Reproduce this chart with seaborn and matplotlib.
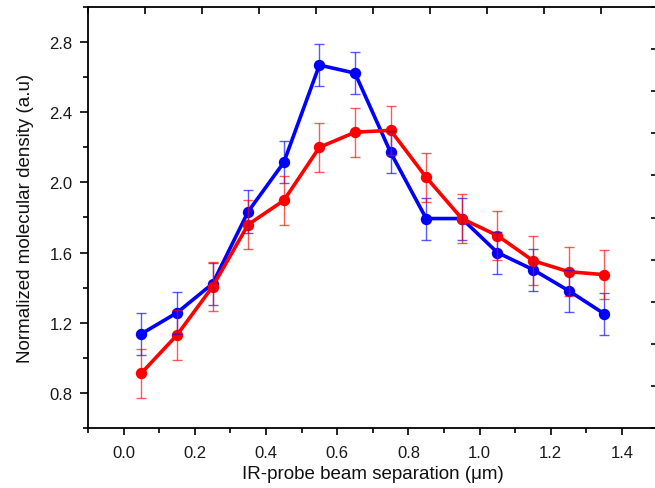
import numpy as np
import pandas as pd
import matplotlib
matplotlib.use("Agg")
import matplotlib.pyplot as plt
import seaborn as sns
from matplotlib.ticker import MultipleLocator

sns.set_style("ticks")
plt.rcParams['font.family'] = ['Liberation Sans', 'DejaVu Sans']

# -----------------------------
# data
# -----------------------------
separation = [0.05, 0.15, 0.25, 0.35, 0.45, 0.55, 0.65, 0.75, 0.85, 0.95, 1.05, 1.15, 1.25, 1.35]
blue_density = [1.137, 1.257, 1.423, 1.834, 2.114, 2.669, 2.623, 2.171, 1.794, 1.794, 1.600, 1.503, 1.383, 1.251]
red_density = [0.913, 1.130, 1.406, 1.760, 1.897, 2.200, 2.286, 2.297, 2.029, 1.794, 1.697, 1.554, 1.491, 1.474]
blue_err = [0.12] * len(separation)
red_err = [0.14] * len(separation)

df = pd.DataFrame({
    "sep": separation * 2,
    "density": blue_density + red_density,
    "series": ["blue"] * len(separation) + ["red"] * len(separation),
})

fig = plt.figure(figsize=(6.55, 4.89), dpi=100)
ax = fig.add_axes([88 / 655, 1 - 429 / 489, (657.6 - 88) / 655, (429 - 8) / 489])

# error bars
ax.errorbar(separation, blue_density, yerr=blue_err, fmt='none', ecolor='#0000ff',
            elinewidth=1.0, capsize=3.8, capthick=1.0, alpha=0.65, zorder=4)
ax.errorbar(separation, red_density, yerr=red_err, fmt='none', ecolor='#ff0000',
            elinewidth=1.0, capsize=3.8, capthick=1.0, alpha=0.65, zorder=4)

sns.lineplot(data=df, x="sep", y="density", hue="series", palette={"blue": "#0000ff", "red": "#ff0000"},
             marker="o", markersize=8.2, markeredgewidth=0, linewidth=2.6, legend=False, ax=ax, zorder=3)

ax.set_xlim(-0.1, 1.5)
ax.set_ylim(0.6, 3.0)
ax.xaxis.set_minor_locator(MultipleLocator(0.1))
ax.yaxis.set_minor_locator(MultipleLocator(0.2))
ax.set_xticks(np.arange(0.0, 1.41, 0.2))
ax.set_xticklabels([f"{v:.1f}" for v in np.arange(0.0, 1.41, 0.2)])
ax.set_yticks(np.arange(0.8, 2.81, 0.4))
ax.set_yticklabels([f"{v:.1f}" for v in np.arange(0.8, 2.81, 0.4)])

ax.tick_params(axis='both', which='major', direction='out', length=5, width=1.2, labelsize=12,
               color='black', labelcolor='#1a1a1a')
ax.tick_params(axis='both', which='minor', direction='out', length=3.5, width=1.2, color='black')
ax.tick_params(axis='x', which='major', pad=7)
ax.tick_params(axis='y', which='major', length=6, pad=5)
ax.tick_params(top=False, right=False, which='both')
for s in ax.spines.values():
    s.set_linewidth(1.3)
    s.set_color('black')
    s.set_visible(True)

ax.set_xlabel("IR-probe beam separation (\u03bcm)", fontsize=13.5, labelpad=4, color='#111111')
ax.set_ylabel("Normalized molecular density (a.u)", fontsize=13.5, labelpad=11, color='#111111')

# frame ticks on top and right (separate 0-1 scale, ticks inward)
ax2 = fig.add_axes(ax.get_position(), frameon=False)
ax2.set_xlim(0, 1)
ax2.set_ylim(0, 1)
ax2.patch.set_visible(False)
ax2.xaxis.set_ticks_position('top')
ax2.yaxis.set_ticks_position('right')
ax2.set_xticks(np.linspace(0, 1, 11))
ax2.set_yticks(np.linspace(0, 1, 11))
ax2.set_xticklabels([])
ax2.set_yticklabels([])
ax2.tick_params(direction='in', length=5, width=1.2, color='black')

fig.savefig("out.png", dpi=100)
